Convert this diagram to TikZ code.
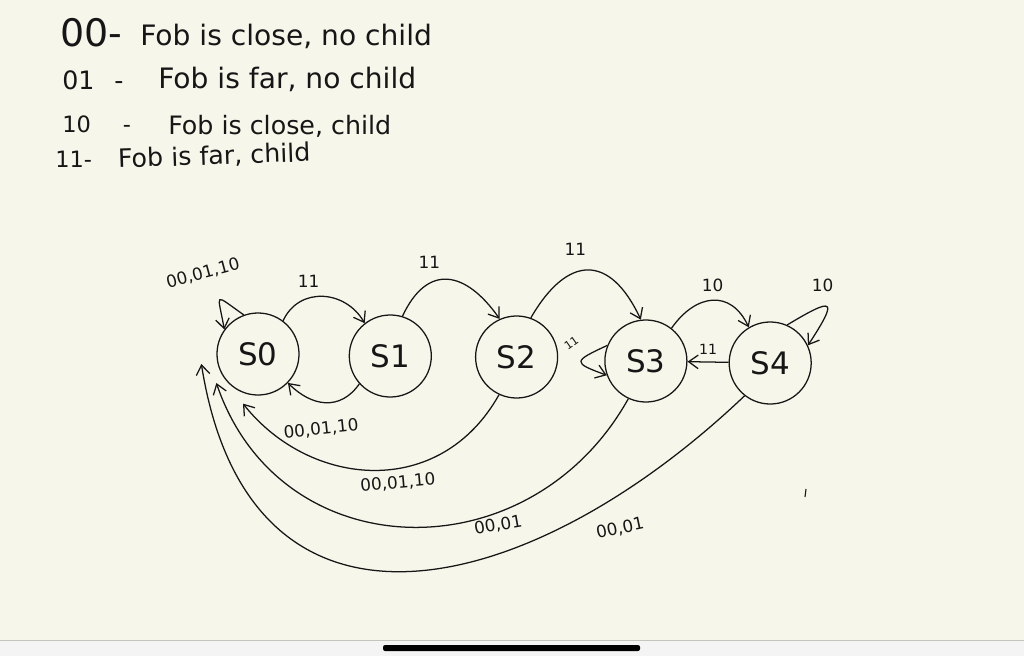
\documentclass[tikz,border=0pt]{standalone}
\usepackage{fontspec}
\setmainfont{DejaVu Sans}
\usepackage{xcolor}
\definecolor{cPaper}{HTML}{F6F6EA}
\definecolor{cInk}{HTML}{161616}
\definecolor{cBand}{HTML}{F4F4F4}
\definecolor{cShade}{HTML}{C4C4BE}
\usepackage{tikz}
\usetikzlibrary{positioning,arrows.meta}
\tikzset{
  node-state/.style={draw=cInk,line width=0.9pt,circle,minimum size=2.05cm,
    inner sep=0pt,text=cInk,font=\fontsize{22}{24}\selectfont},
  node-code/.style={anchor=base west,inner sep=0pt,text=cInk},
  node-note/.style={anchor=base west,inner sep=0pt,text=cInk},
  edge-label/.style={inner sep=0pt,text=cInk,font=\fontsize{12}{14}\selectfont},
  arrow/.style={-{Straight Barb[length=2.4mm,width=3.4mm]},line width=0.9pt,draw=cInk},
}
\begin{document}
\begin{tikzpicture}[x=0.025cm,y=0.025cm]
  % paper, bottom strip and home bar
  \useasboundingbox (0,-656) rectangle (1024,0);
  \fill[cPaper] (0,-640) rectangle (1024,0);
  \fill[cBand] (0,-656) rectangle (1024,-640);
  \draw[cShade,line width=1pt] (0,-640.5) -- (1024,-640.5);
  \fill[black,rounded corners=1.5pt] (383,-651) rectangle (640,-645);

  % legend
  \node[node-code,font=\fontsize{27}{29}\selectfont] (c00) at (60,-47) {00-};
  \node[node-note,font=\fontsize{20}{22}\selectfont] (t00) at (140,-46) {Fob is close, no child};
  \node[node-code,font=\fontsize{18}{20}\selectfont] (c01) at (62,-90) {01\hspace{0.5cm}-};
  \node[node-note,font=\fontsize{20}{22}\selectfont] (t01) at (158,-89) {Fob is far, no child};
  \node[node-code,font=\fontsize{16}{18}\selectfont] (c10) at (62,-133) {10\hspace{0.8cm}-};
  \node[node-note,font=\fontsize{18}{20}\selectfont] (t10) at (168,-135) {Fob is close, child};
  \node[node-code,font=\fontsize{16}{18}\selectfont] (c11) at (55,-167) {11-};
  \node[node-note,font=\fontsize{18}{20}\selectfont,rotate=2] (t11) at (118,-168) {Fob is far, child};

  % states
  \node[node-state] (s0) at (258,-354) {S0};
  \node[node-state,right=1.225cm of s0,yshift=-0.05cm] (s1) {S1};
  \node[node-state,right=1.075cm of s1,yshift=-0.025cm] (s2) {S2};
  \node[node-state,right=1.15cm of s2,yshift=-0.1cm] (s3) {S3};
  \node[node-state,right=1.025cm of s3,yshift=-0.05cm] (s4) {S4};

  % transitions
  \draw[arrow] (s0.110) to[out=145,in=100,looseness=4]
    node[edge-label,xshift=-12pt,yshift=19pt,rotate=15] (e00) {00,01,10} (s0.144);
  \draw[arrow] (s0.53) to[out=65,in=120,looseness=1.2]
    node[edge-label,xshift=-10pt,yshift=11pt] (e01) {11} (s1.128);
  \draw[arrow] (s1.222) to[out=235,in=-45,looseness=1.2]
    node[edge-label,xshift=-3pt,yshift=-19pt,rotate=6] (e10) {00,01,10} (s0.316);
  \draw[arrow] (s1.73) to[out=65,in=125,looseness=1.55]
    node[edge-label,xshift=-13pt,yshift=12pt] (e12) {11} (s2.114);
  \draw[arrow] (s2.70) to[out=60,in=115,looseness=1.7]
    node[edge-label,xshift=-9pt,yshift=15pt] (e23) {11} (s3.97);
  \draw[arrow] (s3.158) to[out=205,in=160,looseness=3.2]
    node[edge-label,xshift=-7pt,yshift=13pt,rotate=35,font=\fontsize{8}{9}\selectfont] (e33) {11} (s3.200);
  \draw[arrow] (s3.52) to[out=55,in=115,looseness=1.4]
    node[edge-label,yshift=11pt] (e34) {10} (s4.121);
  \draw[arrow] (s4) -- node[edge-label,yshift=9pt,font=\fontsize{10}{12}\selectfont] (e43) {11} (s3);
  \draw[arrow] (s4.66) to[out=31,in=57,looseness=4.9]
    node[edge-label,xshift=-3pt,yshift=15pt] (e44) {10} (s4.25);

  % long returns to S0
  \draw[arrow] (s2.245) .. controls (440,-500) and (310,-488) .. ([shift={(-15,-8)}]s0.south)
    node[edge-label,pos=0.5,xshift=17pt,yshift=-9pt,rotate=5] (e20) {00,01,10};
  \draw[arrow] (s3.245) .. controls (530,-575) and (280,-570) .. ([shift={(0,-29)}]s0.west)
    node[edge-label,pos=0.3,xshift=-7pt,yshift=-12pt,rotate=10] (e30) {00,01};
  \draw[arrow] (s4.232) .. controls (530,-600) and (250,-670) .. ([shift={(-15,-10)}]s0.west)
    node[edge-label,pos=0.2,xshift=7pt,yshift=-20pt,rotate=12] (e40) {00,01};

  % stray pen mark
  \draw[cInk,line width=0.8pt] (806,-489) -- (805,-497);
\end{tikzpicture}
\end{document}
